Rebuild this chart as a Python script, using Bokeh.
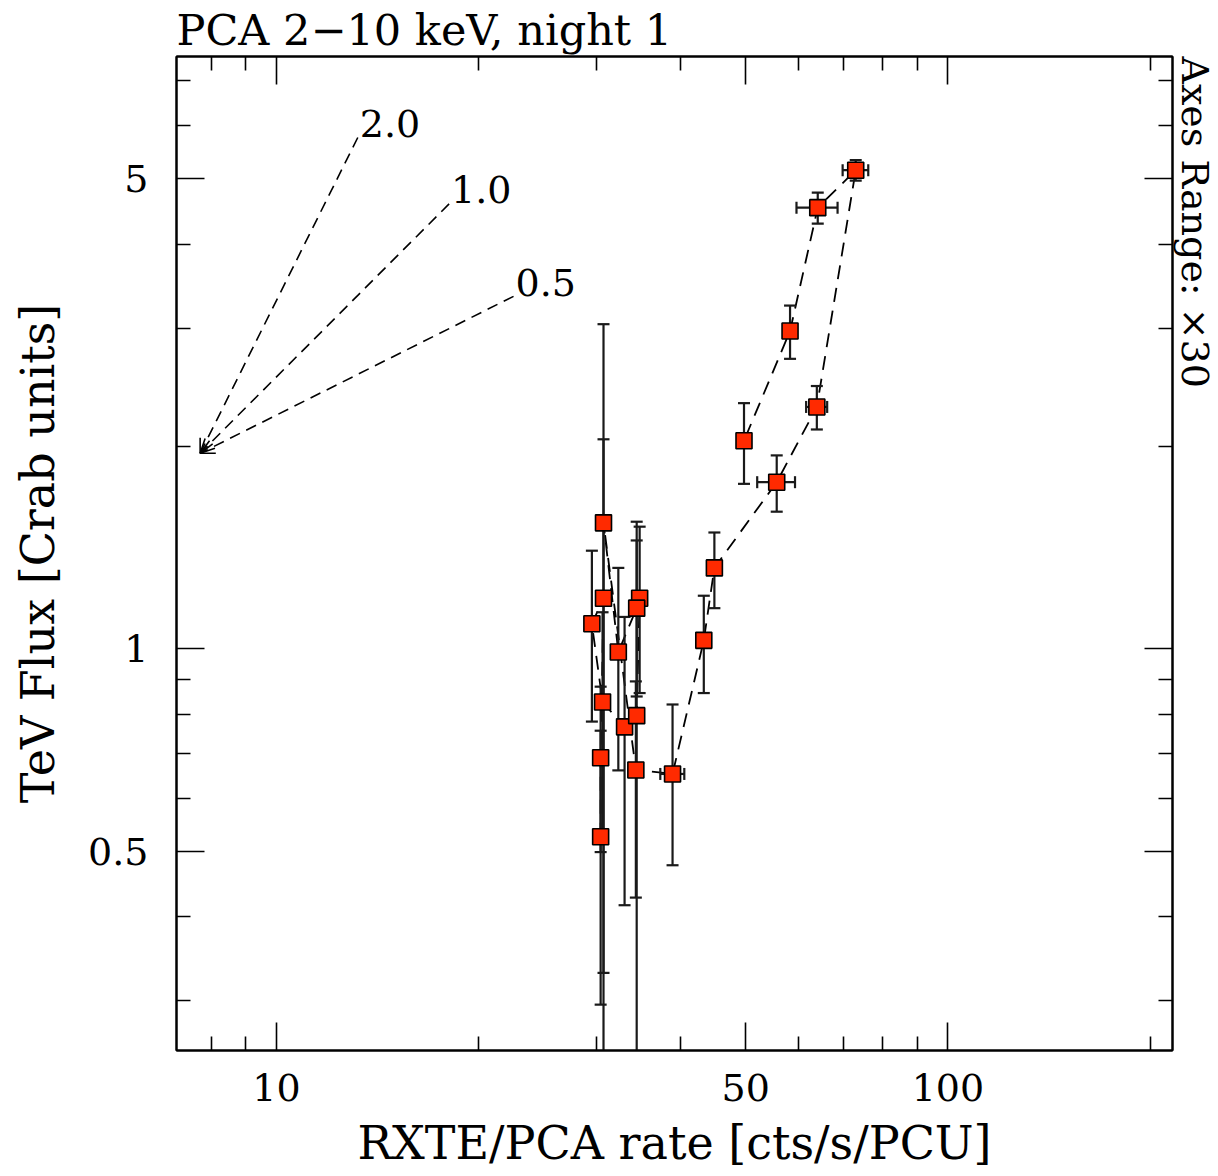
import numpy as np
from bokeh.plotting import figure
from bokeh.models import (ColumnDataSource, LogAxis, FixedTicker, CustomJSTickFormatter,
                          Arrow, OpenHead, Range1d, Title)
from bokeh.core.properties import value
from bokeh.embed import file_html
from bokeh.resources import INLINE

# ---------------- data (time ordered) ----------------
rate = [30.4, 30.4, 30.7, 29.5, 30.6, 33.0, 34.4, 34.75, 34.4, 32.3, 30.7, 34.3,
        38.9, 43.3, 44.9, 55.6, 63.8, 72.9, 64.0, 58.2, 49.7]
rate_err = [0.4, 0.4, 0.4, 0.6, 0.4, 0.4, 0.4, 0.4, 0.4, 0.4, 0.4, 0.4,
            1.6, 1.0, 0.5, 3.6, 2.3, 3.2, 4.5, 0.8, 0.5]
flux = [0.526, 0.689, 1.19, 1.09, 0.834, 0.766, 0.796, 1.19, 1.15, 0.99, 1.54, 0.661,
        0.652, 1.03, 1.32, 1.77, 2.29, 5.15, 4.53, 2.97, 2.04]
flux_err = [0.23, 0.19, 0.86, 0.31, 0.30, 0.35, 0.75, 0.33, 0.30, 0.33, 1.50, 0.234,
            0.175, 0.17, 0.17, 0.17, 0.17, 0.18, 0.24, 0.27, 0.28]

# reference slopes (fan of power laws)
fan_origin_x = 7.70
fan_origin_y = 1.954
fan_slopes = [2.0, 1.0, 0.5]
fan_end_x = [13.22, 18.08, 22.55]

x_major = [10, 50, 100]
x_minor = [8, 9, 20, 30, 40, 60, 70, 80, 90, 200]
y_major = [0.5, 1, 5]
y_minor = [0.3, 0.4, 0.6, 0.7, 0.8, 0.9, 2, 3, 4, 6, 7]

title_text = "PCA 2\u221210 keV, night 1"
x_label = "RXTE/PCA rate [cts/s/PCU]"
y_label = "TeV Flux [Crab units]"
range_text = "Axes Range: \u00d730"

FONT = "DejaVu Serif"

# ---------------- figure ----------------
p = figure(width=1218, height=1176, x_axis_type="log", y_axis_type="log",
           x_range=Range1d(7.1, 216), y_range=Range1d(0.253, 7.6),
           output_backend="svg", toolbar_location=None,
           min_border_left=176, min_border_right=46, min_border_top=55, min_border_bottom=126)
p.background_fill_color = "white"
p.border_fill_color = "white"
p.outline_line_color = "black"
p.outline_line_width = 2
p.xgrid.visible = False
p.ygrid.visible = False

p.title.text = title_text
p.title.align = "left"
p.title.text_font = FONT
p.title.text_font_size = "43px"
p.title.text_font_style = "normal"
p.title.text_color = "black"
p.title.standoff = 4

fmt = CustomJSTickFormatter(code="return tick.toString()")
blank = CustomJSTickFormatter(code="return ''")


def style_axis(ax, ticks, minors, labels=True):
    ax.ticker = FixedTicker(ticks=ticks, minor_ticks=minors)
    ax.major_tick_in = 28
    ax.major_tick_out = 0
    ax.minor_tick_in = 14
    ax.minor_tick_out = 0
    ax.axis_line_width = 2
    ax.axis_line_color = "black"
    ax.major_tick_line_width = 1.6
    ax.minor_tick_line_width = 1.6
    ax.major_tick_line_color = "black"
    ax.minor_tick_line_color = "black"
    ax.major_label_text_font = FONT
    ax.major_label_text_color = "black"
    if labels:
        ax.formatter = fmt
        ax.major_label_text_font_size = "38px"
    else:
        ax.formatter = blank
        ax.major_label_text_font_size = "1px"
        ax.major_label_standoff = 0


xa = p.xaxis[0]
style_axis(xa, x_major, x_minor)
xa.major_label_standoff = 23
xa.axis_label = x_label
xa.axis_label_text_font = FONT
xa.axis_label_text_font_size = "46px"
xa.axis_label_text_font_style = "normal"
xa.axis_label_text_color = "black"
xa.axis_label_standoff = 12

ya = p.yaxis[0]
style_axis(ya, y_major, y_minor)
ya.major_label_standoff = 28
ya.major_label_orientation = "horizontal"
ya.axis_label = y_label
ya.axis_label_text_font = FONT
ya.axis_label_text_font_size = "46px"
ya.axis_label_text_font_style = "normal"
ya.axis_label_text_color = "black"
ya.axis_label_standoff = 20

top_ax = LogAxis()
style_axis(top_ax, x_major, x_minor, labels=False)
p.add_layout(top_ax, "above")
right_ax = LogAxis()
style_axis(right_ax, y_major, y_minor, labels=False)
p.add_layout(right_ax, "right")

p.add_layout(Title(text=range_text, align="left", text_font=FONT, text_font_size="38px",
                   text_font_style="normal", text_color="black", standoff=0, offset=0),
             "right")

# ---------------- fan of slopes ----------------
fan_end_y = [fan_origin_y * (ex / fan_origin_x) ** s for ex, s in zip(fan_end_x, fan_slopes)]
fan_src = ColumnDataSource(dict(
    xs=fan_end_x, ys=fan_end_y,
    xe=[fan_origin_x] * len(fan_slopes), ye=[fan_origin_y] * len(fan_slopes),
    lab=["%.1f" % s for s in fan_slopes]))
p.add_layout(Arrow(source=fan_src, x_start="xs", y_start="ys", x_end="xe", y_end="ye",
                   line_color="black", line_width=1.6, line_dash="11 7",
                   end=OpenHead(size=14, line_width=1.6, line_color="black")))
p.text(x="xs", y="ys", text="lab", source=fan_src, text_font=value(FONT),
       text_font_size="38px", text_align="left", text_baseline="middle",
       x_offset=2, y_offset=-14, text_color="black")

# ---------------- data ----------------
r = np.array(rate)
re_ = np.array(rate_err)
f = np.array(flux)
fe = np.array(flux_err)
src = ColumnDataSource(dict(x=r, y=f, xlo=r - re_, xhi=r + re_, ylo=f - fe, yhi=f + fe))

p.line("x", "y", source=src, line_color="black", line_width=1.8, line_dash="14 9")
ERR_C = "#1a1a1a"
p.segment(x0="x", y0="ylo", x1="x", y1="yhi", source=src, line_color=ERR_C, line_width=2.2)
p.segment(x0="xlo", y0="y", x1="xhi", y1="y", source=src, line_color=ERR_C, line_width=2.2)
p.scatter(x="x", y="ylo", source=src, marker="dash", size=12, line_color=ERR_C, line_width=2.2)
p.scatter(x="x", y="yhi", source=src, marker="dash", size=12, line_color=ERR_C, line_width=2.2)
p.scatter(x="xlo", y="y", source=src, marker="dash", angle=np.pi / 2, size=12,
          line_color=ERR_C, line_width=2.2)
p.scatter(x="xhi", y="y", source=src, marker="dash", angle=np.pi / 2, size=12,
          line_color=ERR_C, line_width=2.2)
p.scatter(x="x", y="y", source=src, marker="square", size=16,
          fill_color="#ff2a00", line_color="black", line_width=1.6)

open("out.html", "w").write(file_html(p, INLINE))
